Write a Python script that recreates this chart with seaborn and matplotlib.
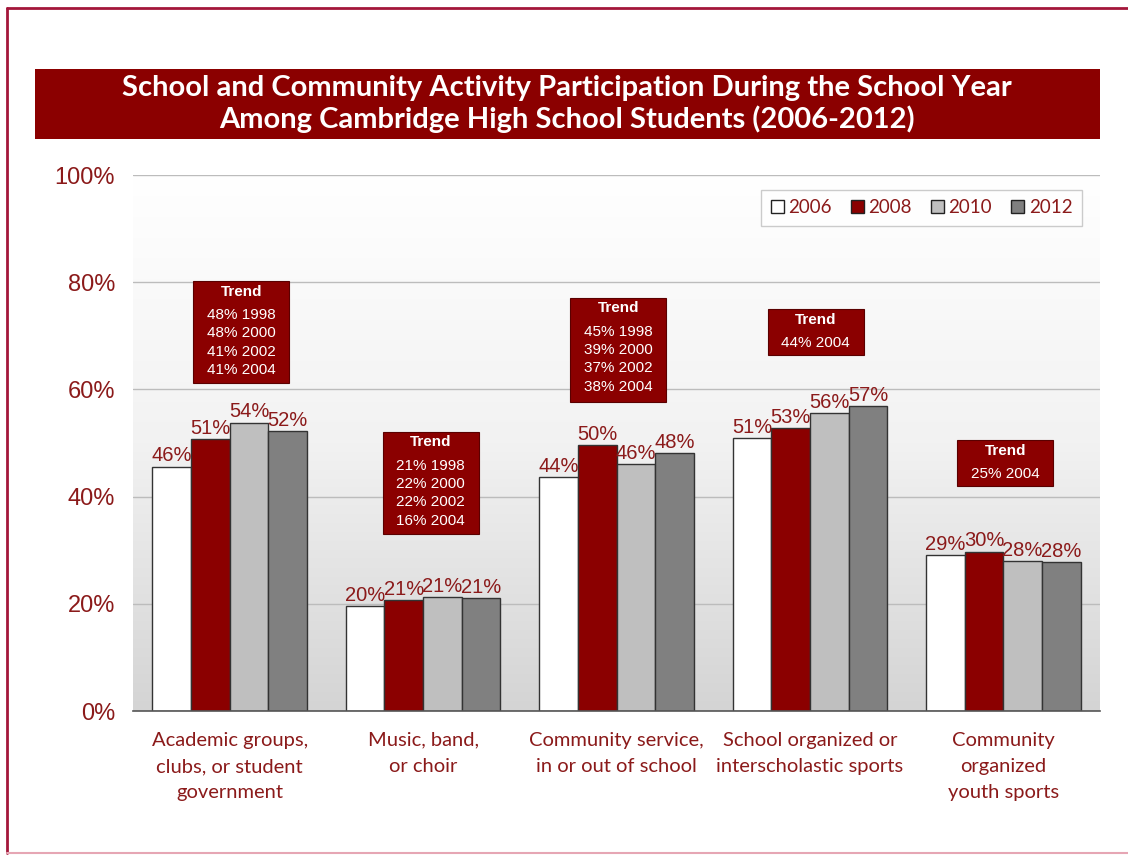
import numpy as np
import pandas as pd
import matplotlib.pyplot as plt
import seaborn as sns
from matplotlib.patches import Rectangle
from matplotlib.lines import Line2D
from matplotlib.colors import LinearSegmentedColormap

# --- dados ---
atividades = ['Academic groups,\nclubs, or student\ngovernment',
              'Music, band,\nor choir',
              'Community service,\nin or out of school',
              'School organized or\ninterscholastic sports',
              'Community\norganized\nyouth sports']
anos = ['2006', '2008', '2010', '2012']
pct_2006 = [45.6, 19.6, 43.6, 50.9, 29.1]
pct_2008 = [50.7, 20.7, 49.6, 52.8, 29.7]
pct_2010 = [53.8, 21.2, 46.1, 55.6, 28.0]
pct_2012 = [52.2, 21.1, 48.1, 56.9, 27.8]

trend_anos = [['1998', '2000', '2002', '2004'],
              ['1998', '2000', '2002', '2004'],
              ['1998', '2000', '2002', '2004'],
              ['2004'],
              ['2004']]
trend_pct = [[48, 48, 41, 41],
             [21, 22, 22, 16],
             [45, 39, 37, 38],
             [44],
             [25]]

cores = ['#ffffff', '#8b0000', '#bfbfbf', '#808080']
vermelho = '#8b0000'
texto_vermelho = '#8b1a1a'

df = pd.DataFrame({
    'atividade': np.repeat(atividades, 4),
    'ano': anos * len(atividades),
    'pct': np.array([pct_2006, pct_2008, pct_2010, pct_2012]).T.ravel(),
})

sns.set_style('white')
plt.rcParams['font.family'] = ['Lato', 'DejaVu Sans']

fig = plt.figure(figsize=(11.28, 8.55), dpi=100)
ax = fig.add_axes([133 / 1128, 1 - 711 / 855, 967 / 1128, 536 / 855])

# fundo em degrade
grad = np.linspace(0, 1, 256).reshape(-1, 1)
cmap = LinearSegmentedColormap.from_list('bg', ['#ffffff', '#f2f2f2', '#d4d4d4'])
ax.imshow(grad, extent=[0, 1, 0, 1], transform=ax.transAxes, cmap=cmap,
          aspect='auto', origin='upper', zorder=0)

sns.barplot(data=df, x='atividade', y='pct', hue='ano', palette=cores,
            saturation=1, edgecolor='#333333', linewidth=1, width=0.8,
            ax=ax, zorder=3, legend=False)

for cont in ax.containers:
    ax.bar_label(cont, labels=[f'{b.get_height():.0f}%' for b in cont],
                 color=texto_vermelho, fontsize=14.5, padding=1,
                 family=['Liberation Sans'], zorder=4)

ax.set_ylim(0, 100)
ax.set_xlim(-0.5, 4.5)
ax.set_yticks(range(0, 101, 20))
ax.set_yticklabels([f'{v}%' for v in range(0, 101, 20)],
                   family=['Liberation Sans'], fontsize=17, color=texto_vermelho)
ax.set_xticks(range(len(atividades)))
ax.set_xticklabels(atividades, fontsize=14.5, color=texto_vermelho, linespacing=1.65)
ax.tick_params(axis='y', pad=13, length=0)
ax.tick_params(axis='x', pad=15, length=0)
ax.set_xlabel('')
ax.set_ylabel('')
ax.yaxis.grid(True, color='#bcbcbc', linewidth=1)
for s in ['top', 'right', 'left']:
    ax.spines[s].set_visible(False)
ax.spines['bottom'].set_color('#555555')
ax.spines['bottom'].set_linewidth(1.2)
ax.spines['bottom'].set_zorder(5)
for gl in ax.get_ygridlines():
    gl.set_zorder(1)

# legenda
handles = [Rectangle((0, 0), 1, 1, facecolor=c, edgecolor='#222222', linewidth=1) for c in cores]
leg = ax.legend(handles, anos, ncol=4, loc='upper right',
                bbox_to_anchor=(0.981, 0.972), borderaxespad=0, frameon=True,
                fancybox=False, edgecolor='#bfbfbf', fontsize=13.5,
                handlelength=0.7, handleheight=0.7, handletextpad=0.25,
                columnspacing=1.0, borderpad=0.5)
leg.get_frame().set_linewidth(1)
leg.set_zorder(6)
for t in leg.get_texts():
    t.set_color(texto_vermelho)

# caixas de tendencia (posicao x em categorias, y em %)
caixas = [(0.06, 80.2, 61.2), (1.04, 52.1, 33.0), (2.01, 77.1, 57.6),
          (3.03, 75.0, 66.4), (4.01, 50.6, 42.0)]
larg = 96 / 193.4
for (cx, y1, y0), an, pc in zip(caixas, trend_anos, trend_pct):
    ax.add_patch(Rectangle((cx - larg / 2, y0), larg, y1 - y0, facecolor=vermelho,
                           edgecolor='#5a0000', linewidth=0.8, zorder=6))
    ax.text(cx, y1 - 2.0, 'Trend', ha='center', va='center', color='white',
            fontsize=11, fontweight='bold', family=['Liberation Sans'], zorder=7)
    linhas = '\n'.join(f'{p}% {a}' for p, a in zip(pc, an))
    ax.text(cx, y1 - 5.0, linhas, ha='center', va='top', color='white',
            fontsize=11, family=['Liberation Sans'], linespacing=1.4, zorder=7)

# faixa do titulo
fig.patches.append(Rectangle((35 / 1128, 1 - 139 / 855), 1065 / 1128, 70 / 855,
                             transform=fig.transFigure, facecolor=vermelho,
                             edgecolor='none', zorder=1))
fig.text(567 / 1128, 1 - 104 / 855,
         'School and Community Activity Participation During the School Year\n'
         'Among Cambridge High School Students (2006-2012)',
         ha='center', va='center', color='white', fontsize=21,
         fontweight='bold', linespacing=1.2, zorder=2)

# moldura externa: topo e esquerda escuros, base clara
borda = '#a3163a'
fig.add_artist(Line2D([7 / 1128, 1], [1 - 8 / 855, 1 - 8 / 855],
                      transform=fig.transFigure, color=borda, linewidth=2))
fig.add_artist(Line2D([7 / 1128, 7 / 1128], [1 - 8 / 855, 1 - 853 / 855],
                      transform=fig.transFigure, color=borda, linewidth=2))
fig.add_artist(Line2D([7 / 1128, 1], [1 - 853 / 855, 1 - 853 / 855],
                      transform=fig.transFigure, color='#e6a6b4', linewidth=1.5))

plt.savefig('out.png', dpi=100)
